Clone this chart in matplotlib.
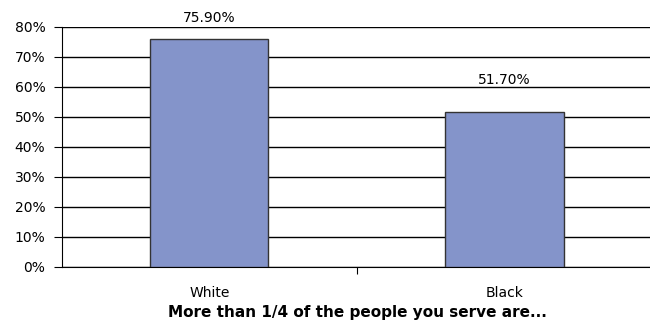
import numpy as np
import matplotlib.pyplot as plt

plt.rcParams['font.family'] = ['DejaVu Sans']

# Datos
categorias = ['White', 'Black']
valores = [75.9, 51.7]
etiquetas = ['75.90%', '51.70%']
yticks = [0, 10, 20, 30, 40, 50, 60, 70, 80]

fig = plt.figure(figsize=(6.5, 3.35), dpi=100)
ax = fig.add_axes([62 / 650, 68 / 335, 590 / 650, 240 / 335])

x = np.arange(len(categorias))
ax.bar(x, valores, width=0.4, color='#8494CA', edgecolor='#333333', linewidth=1, zorder=3)

for xi, v, txt in zip(x, valores, etiquetas):
    ax.text(xi, min(v + 10.5, 83), txt, ha='center', va='center', fontsize=10, clip_on=False)

ax.set_xlim(-0.5, 1.5)
ax.set_ylim(0, 80)
ax.set_yticks(yticks)
ax.set_yticklabels([f'{t}%' for t in yticks], fontsize=10)
ax.yaxis.grid(True, color='black', linewidth=1)
ax.set_axisbelow(True)

ax.set_xticks([0.5])
ax.set_xticklabels([])
ax.tick_params(axis='x', length=5, color='black')
ax.tick_params(axis='y', length=6, color='black', pad=6)
for xi, c in zip(x, categorias):
    ax.text(xi, -8.8, c, ha='center', va='center', fontsize=10, clip_on=False)

ax.spines['top'].set_visible(False)
ax.spines['right'].set_visible(False)
ax.spines['left'].set_color('black')
ax.spines['bottom'].set_color('black')

fig.text(357 / 650, 1 - 313 / 335, 'More than 1/4 of the people you serve are...',
         ha='center', va='center', fontsize=11, fontweight='bold')

fig.savefig('out.png', dpi=100)
